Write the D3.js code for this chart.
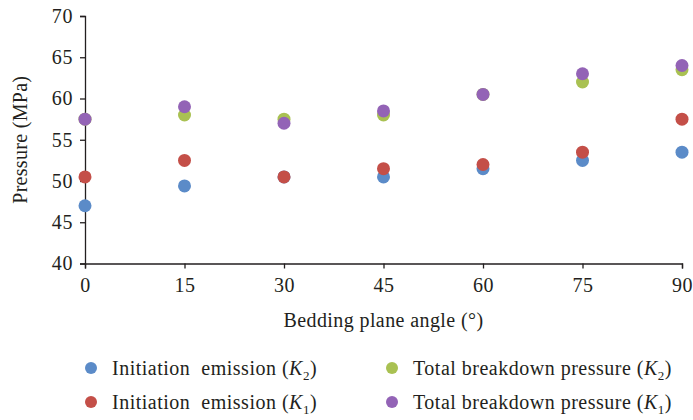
<!DOCTYPE html>
<html>
<head>
<meta charset="utf-8">
<script src="https://cdn.jsdelivr.net/npm/d3@7"></script>
<style>
  body { margin: 0; background: #fff; }
  svg text { font-family: "Liberation Serif", "DejaVu Serif", serif; fill: #231f20; }
</style>
</head>
<body>
<svg id="chart" width="693" height="420"></svg>
<script>
// Bedding plane angle (degrees)
const angles = [0, 15, 30, 45, 60, 75, 90];
// Pressure values (MPa) for each series
const initiationK2 = [47, 49.4, 50.5, 50.5, 51.5, 52.5, 53.5];
const initiationK1 = [50.5, 52.5, 50.5, 51.5, 52, 53.5, 57.5];
const breakdownK2 = [57.5, 58, 57.5, 58, 60.5, 62, 63.5];
const breakdownK1 = [57.5, 59, 57, 58.5, 60.5, 63, 64];
const yTicks = [40, 45, 50, 55, 60, 65, 70];

const series = [
  { label: "Initiation  emission (", sub: "2", values: initiationK2, color: "#5b8bc8" },
  { label: "Initiation  emission (", sub: "1", values: initiationK1, color: "#c44f48" },
  { label: "Total breakdown pressure (", sub: "2", values: breakdownK2, color: "#a9c152" },
  { label: "Total breakdown pressure (", sub: "1", values: breakdownK1, color: "#9363b6" }
];

const svg = d3.select("#chart");
const x = d3.scaleLinear().domain([0, 90]).range([85, 682]);
const y = d3.scaleLinear().domain([40, 70]).range([263.5, 16]);

const xAxis = svg.append("g")
  .attr("transform", `translate(0,${y(40)})`)
  .call(d3.axisBottom(x).tickValues(angles).tickSize(5).tickPadding(9));
const yAxis = svg.append("g")
  .attr("transform", `translate(${x(0)},0)`)
  .call(d3.axisLeft(y).tickValues(yTicks).tickSize(5).tickPadding(7));

[xAxis, yAxis].forEach(g => {
  g.attr("font-family", null).attr("font-size", null);
  g.selectAll("path, line").attr("stroke", "#231f20").attr("stroke-width", 1.3);
  g.selectAll("text").style("font-size", "20px").style("letter-spacing", "0.6px").attr("fill", "#231f20");
});

// Axis titles
svg.append("text")
  .attr("x", (x(0) + x(90)) / 2).attr("y", 327)
  .attr("text-anchor", "middle").style("font-size", "20px").style("letter-spacing", "0.4px")
  .text("Bedding plane angle (°)");
svg.append("text")
  .attr("transform", `translate(27,${(y(40) + y(70)) / 2}) rotate(-90)`)
  .attr("text-anchor", "middle").style("font-size", "20px").style("letter-spacing", "0.3px")
  .text("Pressure (MPa)");

// Scatter points, drawn in series order
series.forEach(s => {
  svg.append("g").selectAll("circle")
    .data(s.values.map((v, i) => [angles[i], v]))
    .join("circle")
    .attr("cx", d => x(d[0]))
    .attr("cy", d => y(d[1]))
    .attr("r", 6.5)
    .attr("fill", s.color);
});

// Legend: two columns, two rows
const legendPos = [[91, 368], [91, 402], [392, 368], [392, 402]];
series.forEach((s, i) => {
  const [lx, ly] = legendPos[i];
  const g = svg.append("g").attr("transform", `translate(${lx},${ly})`);
  g.append("circle").attr("r", 6).attr("fill", s.color);
  const t = g.append("text").attr("x", 21).attr("y", 6.5)
    .style("font-size", "20px").style("letter-spacing", "0.5px").style("white-space", "pre");
  t.append("tspan").text(s.label);
  t.append("tspan").style("font-style", "italic").text("K");
  t.append("tspan").attr("dy", 5).style("font-size", "13px").text(s.sub);
  t.append("tspan").attr("dy", -5).text(")");
});
</script>
</body>
</html>
